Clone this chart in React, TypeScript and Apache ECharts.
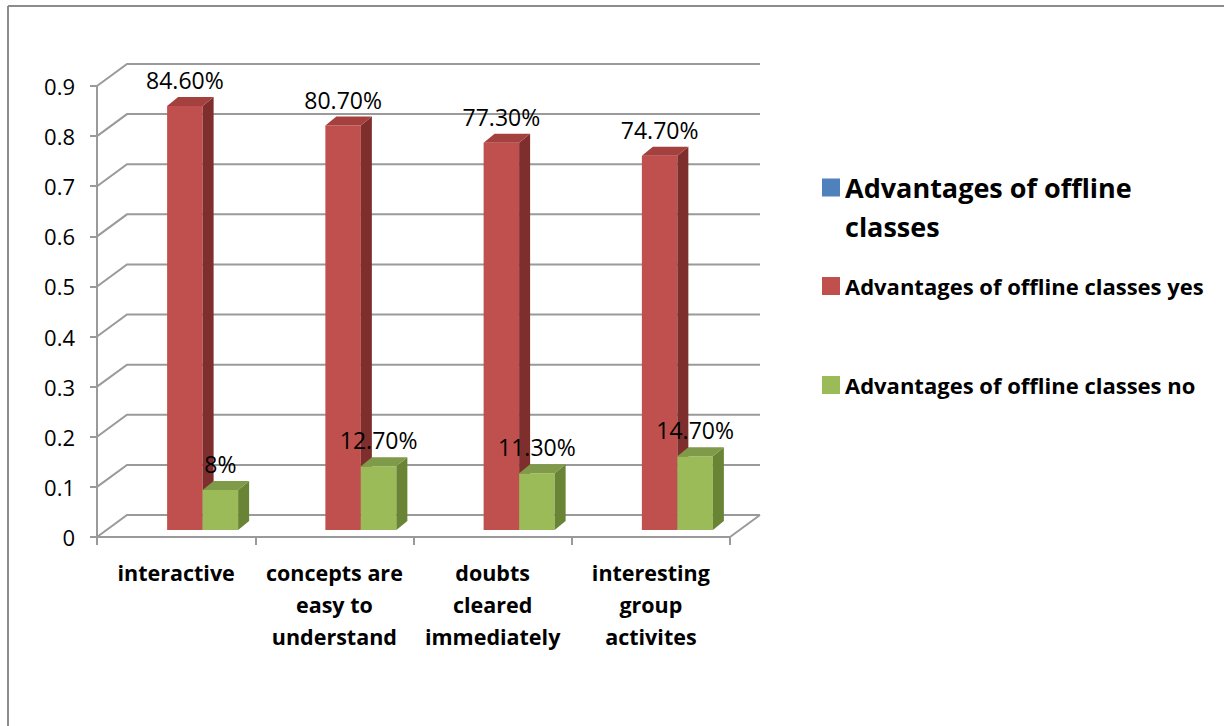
import { useEffect, useRef } from 'react';
import * as echarts from 'echarts';

const categories = [
  'interactive',
  'concepts are\neasy to\nunderstand',
  'doubts\ncleared\nimmediately',
  'interesting\ngroup\nactivites',
];
const seriesNames = [
  'Advantages of offline classes',
  'Advantages of offline classes yes',
  'Advantages of offline classes no',
];
const yesValues = [0.846, 0.807, 0.773, 0.747];
const noValues = [0.08, 0.127, 0.113, 0.147];
const yesLabels = ['84.60%', '80.70%', '77.30%', '74.70%'];
const noLabels = ['8%', '12.70%', '11.30%', '14.70%'];
const yTicks = [0, 0.1, 0.2, 0.3, 0.4, 0.5, 0.6, 0.7, 0.8, 0.9];

const FONT = '"Open Sans", "Liberation Sans", sans-serif';
const WALL_DX = 30;
const WALL_DY = 22;
const BAR_LIFT = 7;
const BAR_DX = 11;
const BAR_DY = 9;
const GRID_COLOR = '#9a9a9a';

function barRender(offsetRatio: number, colors: { front: string; side: string; top: string }, labels: string[]) {
  return (params: any, api: any) => {
    const i = api.value(0);
    const v = api.value(1);
    const p = api.coord([i, v]);
    const b = api.coord([i, 0]);
    const band = api.size([1, 0])[0];
    const w = band * 0.2243;
    const x0 = p[0] + band * offsetRatio;
    const yT = p[1] - BAR_LIFT;
    const yB = b[1] - BAR_LIFT;
    return {
      type: 'group',
      children: [
        {
          type: 'rect',
          shape: { x: x0, y: yT, width: w, height: yB - yT },
          style: { fill: colors.front },
        },
        {
          type: 'polygon',
          shape: {
            points: [
              [x0 + w, yT],
              [x0 + w + BAR_DX, yT - BAR_DY],
              [x0 + w + BAR_DX, yB - BAR_DY],
              [x0 + w, yB],
            ],
          },
          style: { fill: colors.side },
        },
        {
          type: 'polygon',
          shape: {
            points: [
              [x0, yT],
              [x0 + BAR_DX, yT - BAR_DY],
              [x0 + w + BAR_DX, yT - BAR_DY],
              [x0 + w, yT],
            ],
          },
          style: { fill: colors.top },
        },
        {
          type: 'text',
          z2: 10,
          style: {
            text: labels[params.dataIndex],
            x: x0 + w / 2,
            y: yT - 26,
            align: 'center',
            verticalAlign: 'middle',
            fontSize: 23,
            fontFamily: FONT,
            fill: '#000',
          },
        },
      ],
    };
  };
}

function wallRender(params: any, api: any) {
  const cs = params.coordSys;
  const v = api.value(1);
  const y = api.coord([0, v])[1];
  const children: any[] = [
    {
      type: 'polyline',
      shape: {
        points: [
          [cs.x, y],
          [cs.x + WALL_DX, y - WALL_DY],
          [cs.x + cs.width + WALL_DX, y - WALL_DY],
        ],
      },
      style: { stroke: GRID_COLOR, lineWidth: 2, fill: 'none' },
    },
  ];
  if (v === 0) {
    children.push({
      type: 'line',
      shape: { x1: cs.x + cs.width, y1: y, x2: cs.x + cs.width + WALL_DX, y2: y - WALL_DY },
      style: { stroke: GRID_COLOR, lineWidth: 2 },
    });
  }
  return { type: 'group', children };
}

export default function App() {
  const ref = useRef<HTMLDivElement>(null);
  useEffect(() => {
    if (!ref.current) return;
    const chart = echarts.init(ref.current, undefined, { renderer: 'svg' });
    const legendBase = {
      orient: 'vertical',
      icon: 'rect',
      itemWidth: 18,
      itemHeight: 18,
      padding: 0,
      selectedMode: false,
      left: 822,
      textStyle: { fontFamily: FONT, fontWeight: 'bold', color: '#000', fontSize: 22, lineHeight: 18 },
    };
    chart.setOption({
      animation: false,
      backgroundColor: '#fff',
      textStyle: { fontFamily: FONT },
      graphic: [
        { type: 'line', shape: { x1: 8, y1: 6, x2: 1224, y2: 6 }, style: { stroke: '#8c8c8c', lineWidth: 2 } },
        { type: 'line', shape: { x1: 8, y1: 6, x2: 8, y2: 726 }, style: { stroke: '#8c8c8c', lineWidth: 2 } },
      ],
      legend: [
        {
          ...legendBase,
          top: 168,
          itemHeight: 57,
          icon: 'path://M0,0L18,0L18,18L0,18Z M0,57L0.05,57L0.05,56.95Z',
          data: [
            {
              name: seriesNames[0],
              textStyle: { fontSize: 27, lineHeight: 39 },
            },
          ],
          formatter: (n: string) => n.replace(' classes', '\nclasses'),
        },
        { ...legendBase, top: 275, data: [seriesNames[1]] },
        { ...legendBase, top: 374, data: [seriesNames[2]] },
      ],
      grid: { left: 97, top: 86, width: 633, height: 451 },
      xAxis: {
        type: 'category',
        data: categories,
        axisLine: { show: true, lineStyle: { color: GRID_COLOR, width: 2 } },
        axisTick: { show: true, length: 8, lineStyle: { color: GRID_COLOR, width: 2 } },
        axisLabel: {
          margin: 19,
          fontSize: 21.5,
          fontWeight: 'bold',
          lineHeight: 32,
          color: '#000',
          fontFamily: FONT,
          interval: 0,
        },
      },
      yAxis: {
        type: 'value',
        min: 0,
        max: 0.9,
        interval: 0.1,
        axisLine: { show: true, lineStyle: { color: GRID_COLOR, width: 2 } },
        axisTick: { show: true, length: 7, lineStyle: { color: GRID_COLOR, width: 2 } },
        splitLine: { show: false },
        axisLabel: { margin: 22, fontSize: 22, color: '#000', fontFamily: FONT },
      },
      series: [
        {
          type: 'custom',
          name: '__wall',
          silent: true,
          z: 1,
          renderItem: wallRender,
          data: yTicks.map((v) => [0, v]),
        },
        {
          type: 'custom',
          name: seriesNames[0],
          itemStyle: { color: '#4F81BD' },
          renderItem: () => ({ type: 'group', children: [] }),
          data: [],
        },
        {
          type: 'custom',
          name: seriesNames[1],
          z: 2,
          itemStyle: { color: '#C0504D' },
          renderItem: barRender(-0.0569, { front: '#C0504D', side: '#7E2F2D', top: '#A4403D' }, yesLabels),
          data: yesValues.map((v, i) => [i, v]),
        },
        {
          type: 'custom',
          name: seriesNames[2],
          z: 3,
          itemStyle: { color: '#9BBB59' },
          renderItem: barRender(0.1675, { front: '#9BBB59', side: '#6A8436', top: '#7F9A48' }, noLabels),
          data: noValues.map((v, i) => [i, v]),
        },
      ],
    });
    return () => chart.dispose();
  }, []);
  return <div ref={ref} style={{ position: 'fixed', left: 0, top: 0, width: 1224, height: 726 }} />;
}
